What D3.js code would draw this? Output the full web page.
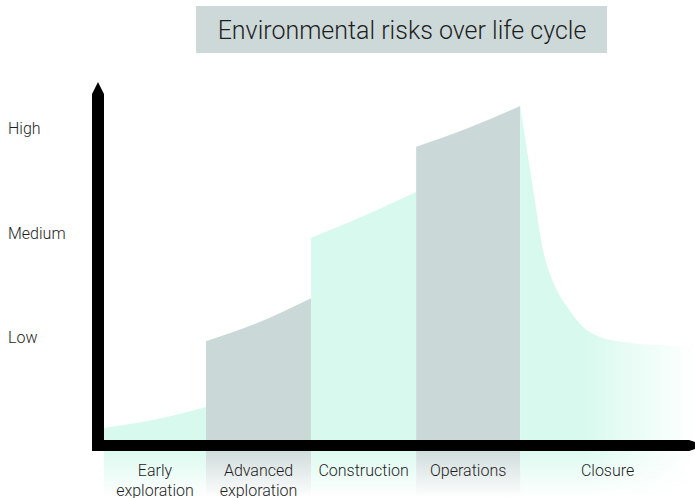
<!DOCTYPE html>
<html>
<head>
<meta charset="utf-8">
<script src="https://cdn.jsdelivr.net/npm/d3@7"></script>
<style>
  html, body { margin: 0; padding: 0; background: #fff; }
  svg { display: block; }
  text { font-family: Roboto, "Noto Sans", sans-serif; }
</style>
</head>
<body>
<svg id="chart" width="695" height="498"></svg>
<script>
// ---------- data ----------
const title = "Environmental risks over life cycle";
const riskLevels = ["Low", "Medium", "High"];           // y tick labels at 1, 2, 3
const riskValues = [1, 2, 3];
const phases = ["Early exploration", "Advanced exploration", "Construction", "Operations", "Closure"];
const phaseLabels = [["Early", "exploration"], ["Advanced", "exploration"], ["Construction"], ["Operations"], ["Closure"]];
const phaseBounds = [0, 0.98, 1.99, 3.0, 4.0, 5.68];     // phase start/end along the life cycle
const phaseKind = ["mint", "grey", "mint", "grey", "mint"];
// risk curve per phase: [life-cycle position, risk level]
const riskEarly = [[0, 0.13], [0.49, 0.21], [0.98, 0.33]];
const riskAdvanced = [[0.98, 0.96], [1.49, 1.14], [1.99, 1.37]];
const riskConstruction = [[1.99, 1.95], [2.5, 2.16], [3.0, 2.39]];
const riskOperations = [[3.0, 2.82], [3.5, 3.0], [4.0, 3.21]];
const riskClosure = [[4.0, 3.21], [4.125, 2.41], [4.22, 1.83], [4.32, 1.52], [4.45, 1.29],
                     [4.6, 1.10], [4.77, 1.0], [5.09, 0.94], [5.35, 0.92], [5.68, 0.91]];
const riskCurves = [riskEarly, riskAdvanced, riskConstruction, riskOperations, riskClosure];

// ---------- layout ----------
const colors = { mint: "#d8faee", grey: "#cbd8d8" };
const svg = d3.select("#chart");
const x = d3.scaleLinear().domain([0, 5.68]).range([104, 695]);
const y = d3.scaleLinear().domain([0, 3]).range([441.5, 128]);
const axisTop = 440, axisBottom = 451;

const defs = svg.append("defs");
// vertical fades below the axis
["mint", "grey"].forEach(k => {
  const g = defs.append("linearGradient").attr("id", "fade-" + k)
    .attr("x1", 0).attr("y1", 0).attr("x2", 0).attr("y2", 1);
  g.append("stop").attr("offset", "0%").attr("stop-color", colors[k]).attr("stop-opacity", 0.9);
  g.append("stop").attr("offset", "100%").attr("stop-color", colors[k]).attr("stop-opacity", 0);
});
// horizontal fade for the closure phase
const hg = defs.append("linearGradient").attr("id", "closure-fade")
  .attr("gradientUnits", "userSpaceOnUse")
  .attr("x1", 585).attr("y1", 0).attr("x2", 695).attr("y2", 0);
hg.append("stop").attr("offset", "0%").attr("stop-color", "#fff");
hg.append("stop").attr("offset", "100%").attr("stop-color", "#000");
defs.append("mask").attr("id", "closure-mask")
  .append("rect").attr("x", 0).attr("y", 0).attr("width", 695).attr("height", 498)
  .attr("fill", "url(#closure-fade)");

// title box
svg.append("rect").attr("x", 196).attr("y", 6).attr("width", 411).attr("height", 47)
  .attr("fill", "#cdd9d9");
svg.append("text").attr("x", 402).attr("y", 39).attr("text-anchor", "middle")
  .attr("font-size", 25).attr("font-weight", 300).attr("fill", "#1e1e1e").text(title);

// areas
const area = d3.area().x(d => x(d[0])).y0(axisBottom).y1(d => y(d[1])).curve(d3.curveMonotoneX);
const bands = svg.append("g");
riskCurves.forEach((pts, i) => {
  bands.append("path").attr("d", area(pts)).attr("fill", colors[phaseKind[i]])
    .attr("mask", i === 4 ? "url(#closure-mask)" : null);
});
// columns fading below the axis
phases.forEach((p, i) => {
  bands.append("rect")
    .attr("x", x(phaseBounds[i])).attr("width", x(phaseBounds[i + 1]) - x(phaseBounds[i]))
    .attr("y", axisBottom).attr("height", 498 - axisBottom)
    .attr("fill", "url(#fade-" + phaseKind[i] + ")")
    .attr("mask", i === 4 ? "url(#closure-mask)" : null);
});

// axes lines (thick black with arrows)
svg.append("path").attr("fill", "#000")
  .attr("d", `M92,${axisBottom} L92,94 L98,82 L104,94 L104,${axisTop} L689,${axisTop} L695,442 L695,449 L689,${axisBottom} Z`);

// y tick labels via d3 axis
const yAxis = d3.axisLeft(y).tickValues(riskValues).tickSize(0)
  .tickFormat((d, i) => riskLevels[i]);
const yg = svg.append("g").call(yAxis);
yg.select(".domain").remove();
yg.selectAll("text").attr("x", 8).attr("dy", "0.36em").attr("text-anchor", "start")
  .attr("font-size", 16).attr("font-weight", 300).attr("fill", "#1e1e1e")
  .style("font-family", "Roboto, 'Noto Sans', sans-serif");

// x phase labels
const xl = svg.append("g");
phases.forEach((p, i) => {
  const cx = x((phaseBounds[i] + phaseBounds[i + 1]) / 2);
  const t = xl.append("text").attr("x", cx).attr("y", 476).attr("text-anchor", "middle")
    .attr("font-size", 16).attr("font-weight", 300).attr("fill", "#1e1e1e");
  phaseLabels[i].forEach((line, j) => {
    t.append("tspan").attr("x", cx).attr("dy", j === 0 ? 0 : 19.5).text(line);
  });
});
</script>
</body>
</html>
